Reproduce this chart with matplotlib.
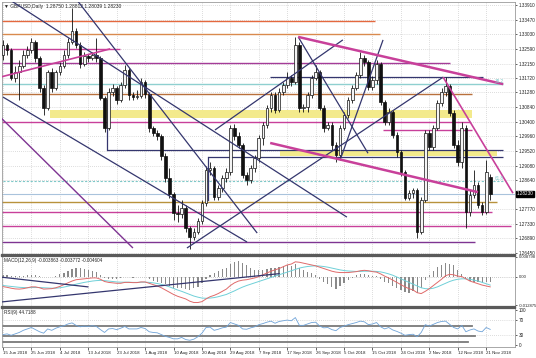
import matplotlib
matplotlib.use("Agg")
import matplotlib.pyplot as plt
import matplotlib.transforms as mtrans
import numpy as np

plt.rcParams['font.family'] = ['Liberation Sans', 'DejaVu Sans']

W, H = 536, 358

# ---------------- data ----------------
date_labels = ["15 Jun 2018", "25 Jun 2018", "4 Jul 2018", "13 Jul 2018", "23 Jul 2018",
               "1 Aug 2018", "10 Aug 2018", "20 Aug 2018", "29 Aug 2018", "7 Sep 2018",
               "17 Sep 2018", "26 Sep 2018", "5 Oct 2018", "15 Oct 2018", "24 Oct 2018",
               "2 Nov 2018", "12 Nov 2018", "21 Nov 2018"]
date_ticks = [0, 7, 14, 21, 28, 35, 42, 49, 56, 63, 70, 77, 84, 91, 98, 105, 112, 119]

opens = [1.3240, 1.3271, 1.3256, 1.3171, 1.3189, 1.3207, 1.3240, 1.3256, 1.3280, 1.3231,
         1.3141, 1.3081, 1.3189, 1.3141, 1.3189, 1.3207, 1.3240, 1.3280, 1.3313, 1.3271,
         1.3213, 1.3237, 1.3231, 1.3240, 1.3231, 1.3111, 1.3021, 1.3129, 1.3141, 1.3105,
         1.3150, 1.3195, 1.3120, 1.3114, 1.3117, 1.3159, 1.3123, 1.3021, 1.3006, 1.2997,
         1.2936, 1.2870, 1.2822, 1.2765, 1.2762, 1.2780, 1.2720, 1.2693, 1.2708, 1.2741,
         1.2795, 1.2894, 1.2900, 1.2813, 1.2840, 1.2870, 1.2888, 1.3021, 1.2997, 1.2970,
         1.2879, 1.2864, 1.2900, 1.2930, 1.2991, 1.3030, 1.3081, 1.3120, 1.3075, 1.3129,
         1.3150, 1.3171, 1.3159, 1.3271, 1.3081, 1.3084, 1.3120, 1.3171, 1.3189, 1.3081,
         1.3021, 1.3030, 1.2970, 1.2939, 1.3021, 1.3060, 1.3105, 1.3141, 1.3180, 1.3231,
         1.3219, 1.3144, 1.3165, 1.3213, 1.3099, 1.3039, 1.3069, 1.3000, 1.2948, 1.2888,
         1.2810, 1.2825, 1.2834, 1.2708, 1.2804, 1.3006, 1.2964, 1.3021, 1.3096, 1.3129,
         1.3147, 1.3066, 1.2970, 1.2918, 1.3021, 1.2768, 1.2819, 1.2849, 1.2789, 1.2768,
         1.28750]
highs = [1.3286, 1.3277, 1.3262, 1.3207, 1.3225, 1.3256, 1.3268, 1.3292, 1.3286, 1.3237,
         1.3150, 1.3195, 1.3201, 1.3195, 1.3219, 1.3256, 1.3292, 1.3382, 1.3322, 1.3280,
         1.3249, 1.3243, 1.3249, 1.3292, 1.3237, 1.3117, 1.3141, 1.3153, 1.3147, 1.3159,
         1.3210, 1.3201, 1.3129, 1.3135, 1.3171, 1.3165, 1.3129, 1.3027, 1.3015, 1.3003,
         1.2945, 1.2900, 1.2828, 1.2789, 1.2804, 1.2789, 1.2726, 1.2720, 1.2750, 1.2804,
         1.2906, 1.2918, 1.2906, 1.2849, 1.2879, 1.2900, 1.3030, 1.3033, 1.3009, 1.2976,
         1.2888, 1.2909, 1.2939, 1.3000, 1.3039, 1.3090, 1.3129, 1.3129, 1.3141, 1.3159,
         1.3189, 1.3180, 1.3295, 1.3280, 1.3093, 1.3129, 1.3180, 1.3210, 1.3195, 1.3090,
         1.3039, 1.3039, 1.2979, 1.3030, 1.3069, 1.3114, 1.3150, 1.3189, 1.3249, 1.3240,
         1.3225, 1.3177, 1.3225, 1.3219, 1.3105, 1.3081, 1.3075, 1.3009, 1.2955, 1.2894,
         1.2834, 1.2840, 1.2840, 1.2813, 1.3015, 1.3015, 1.3030, 1.3105, 1.3141, 1.3174,
         1.3153, 1.3075, 1.2985, 1.3039, 1.3030, 1.2834, 1.2894, 1.2858, 1.2798, 1.2924,
         1.28812]
lows = [1.3225, 1.3240, 1.3165, 1.3159, 1.3105, 1.3201, 1.3231, 1.3246, 1.3219, 1.3129,
        1.3060, 1.3075, 1.3129, 1.3135, 1.3180, 1.3201, 1.3231, 1.3274, 1.3262, 1.3201,
        1.3207, 1.3219, 1.3225, 1.3219, 1.3105, 1.3009, 1.3015, 1.3117, 1.3093, 1.3099,
        1.3141, 1.3105, 1.3105, 1.3108, 1.3111, 1.3111, 1.3009, 1.2997, 1.2985, 1.2924,
        1.2858, 1.2810, 1.2744, 1.2738, 1.2750, 1.2708, 1.2657, 1.2684, 1.2702, 1.2732,
        1.2786, 1.2879, 1.2804, 1.2804, 1.2828, 1.2858, 1.2879, 1.2985, 1.2961, 1.2870,
        1.2849, 1.2855, 1.2888, 1.2918, 1.2970, 1.3021, 1.3069, 1.3066, 1.3069, 1.3120,
        1.3141, 1.3147, 1.3153, 1.3069, 1.3069, 1.3069, 1.3111, 1.3165, 1.3075, 1.3009,
        1.3015, 1.2955, 1.2918, 1.2924, 1.3015, 1.3051, 1.3096, 1.3135, 1.3171, 1.3207,
        1.3135, 1.3135, 1.3153, 1.3090, 1.3030, 1.3030, 1.2991, 1.2933, 1.2876, 1.2804,
        1.2804, 1.2810, 1.2690, 1.2702, 1.2798, 1.2955, 1.2955, 1.3015, 1.3087, 1.3117,
        1.3057, 1.2961, 1.2906, 1.2900, 1.2720, 1.2756, 1.2810, 1.2780, 1.2759, 1.2762,
        1.28039]
closes = [1.3271, 1.3256, 1.3171, 1.3189, 1.3207, 1.3240, 1.3256, 1.3280, 1.3231, 1.3141,
          1.3081, 1.3189, 1.3141, 1.3189, 1.3207, 1.3240, 1.3280, 1.3313, 1.3271, 1.3213,
          1.3237, 1.3231, 1.3240, 1.3231, 1.3111, 1.3021, 1.3129, 1.3141, 1.3105, 1.3150,
          1.3195, 1.3120, 1.3114, 1.3117, 1.3159, 1.3123, 1.3021, 1.3006, 1.2997, 1.2936,
          1.2870, 1.2822, 1.2765, 1.2762, 1.2780, 1.2720, 1.2693, 1.2708, 1.2741, 1.2795,
          1.2894, 1.2900, 1.2813, 1.2840, 1.2870, 1.2888, 1.3021, 1.2997, 1.2970, 1.2879,
          1.2864, 1.2900, 1.2930, 1.2991, 1.3030, 1.3081, 1.3120, 1.3075, 1.3129, 1.3150,
          1.3171, 1.3159, 1.3271, 1.3081, 1.3084, 1.3120, 1.3171, 1.3189, 1.3081, 1.3021,
          1.3030, 1.2970, 1.2939, 1.3021, 1.3060, 1.3105, 1.3141, 1.3180, 1.3231, 1.3219,
          1.3144, 1.3165, 1.3213, 1.3099, 1.3039, 1.3069, 1.3000, 1.2948, 1.2888, 1.2810,
          1.2825, 1.2834, 1.2708, 1.2804, 1.3006, 1.2964, 1.3021, 1.3096, 1.3129, 1.3147,
          1.3066, 1.2970, 1.2918, 1.3021, 1.2768, 1.2819, 1.2849, 1.2789, 1.2768, 1.2888,
          1.28230]

macd_hist = [0.0008, 0.0006, 0.0003, 0.0002, 0.0001, 0.0003, 0.0005, 0.0008, 0.0006, 0.0002,
             -0.0002, -0.0003, 0.0000, 0.0003, 0.0010, 0.0016, 0.0025, 0.0035, 0.0040, 0.0038,
             0.0034, 0.0030, 0.0026, 0.0022, 0.0008, -0.0008, -0.0012, -0.0010, -0.0010, -0.0006,
             -0.0002, -0.0004, -0.0005, -0.0004, -0.0002, -0.0003, -0.0012, -0.0018, -0.0022, -0.0028,
             -0.0035, -0.0042, -0.0050, -0.0052, -0.0053, -0.0056, -0.0058, -0.0052, -0.0045, -0.0030,
             -0.0012, 0.0005, 0.0015, 0.0025, 0.0033, 0.0040, 0.0055, 0.0065, 0.0068, 0.0062,
             0.0050, 0.0040, 0.0030, 0.0028, 0.0030, 0.0035, 0.0040, 0.0040, 0.0045, 0.0048,
             0.0050, 0.0048, 0.0055, 0.0040, 0.0030, 0.0022, 0.0015, 0.0005, -0.0010, -0.0025,
             -0.0035, -0.0045, -0.0055, -0.0042, -0.0030, -0.0015, -0.0005, 0.0005, 0.0012, 0.0012,
             0.0005, 0.0002, 0.0004, -0.0010, -0.0022, -0.0030, -0.0040, -0.0050, -0.0058, -0.0070,
             -0.0072, -0.0064, -0.0074, -0.0050, -0.0015, 0.0005, 0.0025, 0.0045, 0.0052, 0.0062,
             0.0058, 0.0050, 0.0030, 0.0010, -0.0008, -0.0018, -0.0022, -0.0026, -0.0028, -0.0024,
             -0.0026]
macd_main = [-0.0045, -0.0048, -0.0052, -0.0055, -0.0056, -0.0054, -0.0050, -0.0046, -0.0046, -0.0050,
             -0.0056, -0.0055, -0.0054, -0.0050, -0.0044, -0.0036, -0.0028, -0.0020, -0.0014, -0.0012,
             -0.0010, -0.0008, -0.0006, -0.0006, -0.0012, -0.0022, -0.0026, -0.0028, -0.0030, -0.0030,
             -0.0026, -0.0026, -0.0027, -0.0027, -0.0024, -0.0024, -0.0030, -0.0036, -0.0042, -0.0050,
             -0.0060, -0.0070, -0.0080, -0.0088, -0.0094, -0.0100, -0.0110, -0.0116, -0.0116, -0.0112,
             -0.0100, -0.0090, -0.0084, -0.0076, -0.0066, -0.0056, -0.0040, -0.0028, -0.0020, -0.0016,
             -0.0014, -0.0010, -0.0006, 0.0000, 0.0008, 0.0016, 0.0024, 0.0030, 0.0036, 0.0044,
             0.0052, 0.0056, 0.0066, 0.0064, 0.0060, 0.0056, 0.0052, 0.0048, 0.0042, 0.0036,
             0.0030, 0.0024, 0.0020, 0.0018, 0.0018, 0.0018, 0.0020, 0.0022, 0.0026, 0.0028,
             0.0026, 0.0022, 0.0020, 0.0012, 0.0002, -0.0006, -0.0016, -0.0026, -0.0036, -0.0046,
             -0.0054, -0.0060, -0.0072, -0.0076, -0.0066, -0.0054, -0.0040, -0.0026, -0.0012, 0.0004,
             0.0010, 0.0008, 0.0002, 0.0000, -0.0010, -0.0020, -0.0026, -0.0032, -0.0038, -0.0042,
             -0.0046]
macd_signal = [-0.0040, -0.0042, -0.0044, -0.0046, -0.0048, -0.0049, -0.0050, -0.0049, -0.0049, -0.0049,
               -0.0050, -0.0051, -0.0052, -0.0052, -0.0050, -0.0047, -0.0043, -0.0039, -0.0034, -0.0030,
               -0.0026, -0.0023, -0.0020, -0.0018, -0.0017, -0.0018, -0.0020, -0.0022, -0.0024, -0.0025,
               -0.0025, -0.0025, -0.0026, -0.0026, -0.0025, -0.0025, -0.0026, -0.0028, -0.0031, -0.0035,
               -0.0040, -0.0046, -0.0053, -0.0060, -0.0066, -0.0073, -0.0080, -0.0087, -0.0092, -0.0096,
               -0.0097, -0.0096, -0.0094, -0.0090, -0.0085, -0.0080, -0.0072, -0.0064, -0.0055, -0.0047,
               -0.0040, -0.0034, -0.0028, -0.0022, -0.0016, -0.0010, -0.0004, 0.0002, 0.0008, 0.0014,
               0.0020, 0.0026, 0.0032, 0.0038, 0.0042, 0.0045, 0.0047, 0.0048, 0.0047, 0.0045,
               0.0042, 0.0038, 0.0034, 0.0030, 0.0027, 0.0025, 0.0024, 0.0023, 0.0023, 0.0024,
               0.0024, 0.0024, 0.0023, 0.0021, 0.0017, 0.0012, 0.0006, -0.0002, -0.0010, -0.0018,
               -0.0026, -0.0034, -0.0042, -0.0050, -0.0054, -0.0055, -0.0052, -0.0046, -0.0038, -0.0030,
               -0.0022, -0.0016, -0.0012, -0.0010, -0.0010, -0.0012, -0.0016, -0.0020, -0.0026, -0.0032,
               -0.0038]
rsi_values = [30, 32, 28, 32, 36, 42, 46, 50, 44, 38,
              34, 46, 42, 48, 52, 55, 60, 63, 56, 52,
              54, 53, 55, 53, 44, 36, 46, 47, 44, 48,
              53, 46, 46, 46, 50, 47, 38, 36, 35, 30,
              25, 22, 18, 18, 22, 16, 14, 17, 24, 34,
              50, 51, 42, 45, 49, 51, 64, 60, 56, 46,
              45, 49, 52, 58, 61, 65, 68, 62, 67, 69,
              71, 69, 78, 56, 56, 60, 64, 65, 54, 49,
              50, 44, 41, 50, 54, 58, 61, 64, 68, 66,
              58, 60, 64, 52, 46, 50, 43, 39, 34, 28,
              30, 31, 24, 36, 58, 54, 59, 64, 67, 68,
              59, 50, 46, 56, 38, 43, 46, 40, 38, 50,
              44.7188]

price_ticks = [1.33910, 1.33470, 1.33030, 1.32590, 1.32150, 1.31720, 1.31280, 1.30840,
               1.30400, 1.29960, 1.29520, 1.29080, 1.28640, 1.27770, 1.27330, 1.26890, 1.26450]
macd_ticks = [-0.012875, 0.0, 0.008798]
macd_tick_labels = ["-0.012875", "0.00", "0.008798"]
rsi_ticks = [0, 30, 70, 100]

NAVY = "#34366e"
MAG = "#c8409a"
PURP = "#7e3492"
# horizontal levels: (price, bar_start, bar_end, color, lw)
h_levels = [
    (1.3343, -1, 91.6, "#e4683e", 1.0),
    (1.3304, -1, 92.9, "#d98a4e", 1.0),
    (1.3259, -1, 28.8, MAG, 1.0),
    (1.3216, -1, 110.1, "#a43c98", 1.0),
    (1.3174, 65.8, 118.2, NAVY, 0.9),
    (1.3153, -1, 123.2, "#8fd0d0", 1.0),
    (1.3123, -1, 115.5, "#b8703c", 1.0),
    (1.3039, -1, 115.0, MAG, 1.0),
    (1.3015, 93.6, 115.5, MAG, 1.0),
    (1.2955, 25.6, 123.2, NAVY, 0.9),
    (1.2933, 50.5, 123.2, NAVY, 0.9),
    (1.2798, -1, 121.7, "#b8923c", 1.0),
    (1.2768, -1, 120.5, MAG, 1.0),
    (1.2726, -1, 125.0, MAG, 1.0),
    (1.2677, -1, 116.3, PURP, 1.0),
]
# dotted level lines: (price, bar_end, color, label)
fib_levels = [(1.2861, 123.5, "#7ec8c8", "61.8")]
fib_label_38 = (1.3153, 123.5, "38.2")
bid_line = 1.2822
# yellow zones: (price_low, price_high, bar_start, bar_end)
zones = [(1.3051, 1.3075, 11.6, 115.5), (1.2937, 1.2955, 68.2, 121.7)]
# vertical connectors: (bar, price_low, price_high)
verticals = [(25.6, 1.2955, 1.3105), (50.5, 1.2804, 1.2933)]
# trendlines: (bar0, price0, bar1, price1, color, lw)
trendlines = [
    (1.7, 1.3406, 84.7, 1.2753, NAVY, 0.9),
    (18.2, 1.3406, 62.6, 1.2705, NAVY, 0.9),
    (0.0, 1.3114, 60.1, 1.2678, NAVY, 0.9),
    (-0.7, 1.3054, 32.0, 1.2660, PURP, 1.0),
    (-0.7, 1.3174, 26.4, 1.3259, MAG, 1.2),
    (45.3, 1.2660, 108.4, 1.3174, NAVY, 0.9),
    (52.2, 1.3015, 83.7, 1.3286, NAVY, 0.9),
    (72.7, 1.3295, 89.9, 1.2945, NAVY, 0.9),
    (83.0, 1.2924, 93.6, 1.3286, NAVY, 0.9),
    (72.7, 1.3295, 123.2, 1.3153, MAG, 1.8),
    (108.4, 1.3174, 125.6, 1.2825, MAG, 1.2),
    (65.8, 1.2976, 117.0, 1.2828, MAG, 1.8),
]
macd_trendlines = [(-0.7, -0.0002, 20.9, -0.0046), (-0.7, -0.0114, 68.0, 0.0013)]
rsi_levels = [(55.5, 115.5), (25.2, 116.3), (8.7, 114.5)]

# ---------------- figure ----------------
fig = plt.figure(figsize=(W / 100, H / 100), dpi=100)
fig.patch.set_facecolor("white")


def ax_px(l, t, r, b):
    return fig.add_axes([l / W, 1 - b / H, (r - l) / W, (b - t) / H])


main = ax_px(2, 2, 515, 255)
macd = ax_px(2, 256, 515, 307)
rsi = ax_px(2, 308, 515, 347)
XL = (-0.25, 126.1)

for ax in (main, macd, rsi):
    ax.set_xlim(*XL)
    ax.set_facecolor("white")
    for s in ax.spines.values():
        s.set_color("#9a9a9a")
        s.set_linewidth(0.6)
    ax.tick_params(axis="y", left=False, labelleft=False, right=True, labelright=True,
                   labelsize=3.3, length=1.5, width=0.5, pad=1.0, colors="#222222")
    ax.set_xticks(date_ticks)
    for t in date_ticks:
        ax.axvline(t, color="#bdbdbd", lw=0.5, ls=(0, (1, 2)), zorder=0)
    ax.tick_params(axis="x", bottom=False, labelbottom=False)

for ax in (main, macd):
    ax.spines["bottom"].set_color("#5a5a5a")
    ax.spines["bottom"].set_linewidth(1.6)
for ax in (macd, rsi):
    ax.spines["top"].set_color("#5a5a5a")
    ax.spines["top"].set_linewidth(1.6)

# ---- main price pane ----
main.set_ylim(1.26390, 1.34000)
main.set_yticks(price_ticks)
main.set_yticklabels(["%.5f" % p for p in price_ticks])
for p in price_ticks:
    main.axhline(p, color="#bdbdbd", lw=0.5, ls=(0, (1, 2)), zorder=0)

for lo, hi, b0, b1 in zones:
    main.fill_between([b0, b1], lo, hi, color="#f3ea8c", lw=0, zorder=1)

for p, b0, b1, col, lw in h_levels:
    main.plot([b0, b1], [p, p], color=col, lw=lw, zorder=2, solid_capstyle="butt")
for p, b1, col, lab in fib_levels:
    main.plot([-1, b1], [p, p], color=col, lw=0.8, ls=(0, (2, 1.5)), zorder=2)
    main.text(b1 - 2.5, p, lab, color=col, fontsize=3.3, va="bottom", ha="left", zorder=6)
main.text(fib_label_38[1] - 2.5, fib_label_38[0], fib_label_38[2], color="#7ec8c8",
          fontsize=3.3, va="bottom", ha="left", zorder=6)
main.axhline(bid_line, color="#a9c3dc", lw=0.8, zorder=2)
for b, p0, p1 in verticals:
    main.plot([b, b], [p0, p1], color=NAVY, lw=0.9, zorder=2)

x = np.arange(len(closes))
o = np.array(opens)
h = np.array(highs)
l = np.array(lows)
c = np.array(closes)
up = c >= o
main.vlines(x, l, h, color="#111111", lw=0.6, zorder=3)
bb = np.minimum(o, c)
bh = np.maximum(np.abs(c - o), 0.00008)
main.bar(x[up], bh[up], bottom=bb[up], width=0.66, facecolor="#f4f4f4",
         edgecolor="#111111", lw=0.5, zorder=3)
main.bar(x[~up], bh[~up], bottom=bb[~up], width=0.66, facecolor="#111111",
         edgecolor="#111111", lw=0.5, zorder=3)

for b0, p0, b1, p1, col, lw in trendlines:
    main.plot([b0, b1], [p0, p1], color=col, lw=lw, zorder=4, solid_capstyle="butt")

main.text(0.004, 0.994, "\u25bc GBPUSD,Daily  1.28750 1.28812 1.28039 1.28230",
          transform=main.transAxes, fontsize=3.5, va="top", ha="left", color="#222222")
trans_main = mtrans.blended_transform_factory(main.transAxes, main.transData)
main.text(1.004, closes[-1], "%.5f" % closes[-1], transform=trans_main, fontsize=3.3,
          color="white", va="center", ha="left",
          bbox=dict(boxstyle="square,pad=0.15", fc="black", ec="black"), clip_on=False)

# ---- MACD pane ----
macd.set_ylim(-0.0136, 0.0092)
macd.set_yticks(macd_ticks)
macd.set_yticklabels(macd_tick_labels)
macd.tick_params(axis="y", labelsize=3.0)
macd.axhline(0, color="#9a9a9a", lw=0.5, ls=(0, (1, 2)), zorder=0)
macd.bar(x, macd_hist, width=0.3, color="#8a8a8a", zorder=2)
macd.plot(x, macd_signal, color="#6fd0d8", lw=0.7, zorder=3)
macd.plot(x, macd_main, color="#e06a6a", lw=0.7, zorder=3)
for b0, v0, b1, v1 in macd_trendlines:
    macd.plot([b0, b1], [v0, v1], color=NAVY, lw=0.9, zorder=4)
macd.text(0.004, 0.96, "MACD(12,26,9) -0.003863 -0.003772 -0.004604", transform=macd.transAxes,
          fontsize=3.3, va="top", ha="left", color="#222222")

# ---- RSI pane ----
rsi.set_ylim(-5, 105)
rsi.set_yticks(rsi_ticks)
rsi.set_yticklabels([str(t) for t in rsi_ticks])
for v in (30, 70):
    rsi.axhline(v, color="#bdbdbd", lw=0.5, ls=(0, (1, 2)), zorder=0)
for v, b1 in rsi_levels:
    rsi.plot([-1, b1], [v, v], color="#7a7a7a", lw=1.3, zorder=2)
rsi.plot(x, rsi_values, color="#6fa3d8", lw=0.6, zorder=3)
rsi.text(0.004, 0.95, "RSI(9) 44.7188", transform=rsi.transAxes,
         fontsize=3.3, va="top", ha="left", color="#222222")
rsi.tick_params(axis="x", bottom=True, labelbottom=True, labelsize=3.2, length=2,
                width=0.5, pad=1, colors="#222222")
rsi.set_xticklabels(date_labels, ha="left")

fig.savefig("out.png", dpi=100, facecolor="white")
